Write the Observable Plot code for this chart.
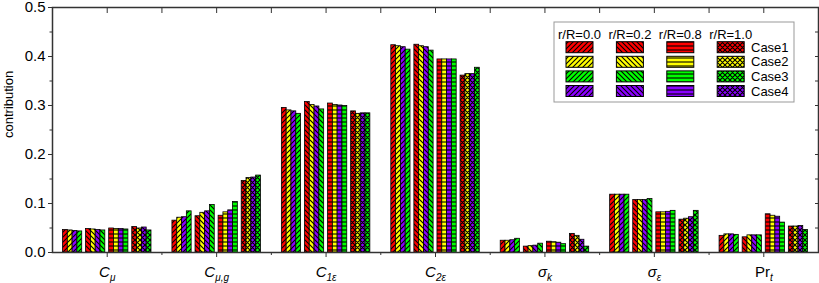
<!DOCTYPE html>
<html><head><meta charset="utf-8">
<script src="https://cdn.jsdelivr.net/npm/d3@7"></script>
<script src="https://cdn.jsdelivr.net/npm/@observablehq/plot@0.6"></script>
<style>
body{margin:0;background:#fff;}
svg{font-family:"Liberation Sans",Arial,sans-serif;}
</style>
</head><body><div id="chart"></div>
<script>
// ---- data ----
const categories = ["Cμ", "Cμ,g", "C1ε", "C2ε", "σk", "σε", "Prt"];
const categoryMain = ["C", "C", "C", "C", "σ", "σ", "Pr"];
const categorySub = ["μ", "μ,g", "1ε", "2ε", "k", "ε", "t"];
const positions = ["r/R=0.0", "r/R=0.2", "r/R=0.8", "r/R=1.0"];
const cases = ["Case1", "Case2", "Case3", "Case4"];
const caseColors = ["#ff0000", "#ffff00", "#00ff00", "#8a00ff"];
const barOrder = ["Case1", "Case2", "Case4", "Case3"];
const yTicks = [0, 0.1, 0.2, 0.3, 0.4, 0.5];
// values per case: [category][r/R position]
const case1 = [[0.046,0.048,0.049,0.052],[0.065,0.074,0.075,0.146],[0.295,0.307,0.304,0.288],[0.423,0.424,0.394,0.361],[0.024,0.012,0.022,0.038],[0.118,0.107,0.082,0.067],[0.034,0.031,0.078,0.053]];
const case2 = [[0.045,0.047,0.048,0.049],[0.071,0.081,0.082,0.152],[0.290,0.301,0.301,0.283],[0.421,0.421,0.394,0.364],[0.024,0.013,0.021,0.034],[0.118,0.107,0.082,0.069],[0.037,0.035,0.075,0.053]];
const case3 = [[0.043,0.045,0.047,0.045],[0.084,0.097,0.103,0.157],[0.283,0.292,0.299,0.284],[0.414,0.412,0.394,0.377],[0.028,0.018,0.017,0.012],[0.118,0.109,0.085,0.085],[0.036,0.035,0.061,0.046]];
const case4 = [[0.044,0.046,0.048,0.051],[0.072,0.084,0.086,0.153],[0.288,0.298,0.300,0.284],[0.419,0.419,0.394,0.364],[0.025,0.014,0.020,0.026],[0.118,0.107,0.083,0.072],[0.037,0.035,0.073,0.054]];

// ---- layout / style ----
const caseValues = {Case1: case1, Case2: case2, Case3: case3, Case4: case4};
const hatch = ["fwd", "back", "h", "cross"];
const groupPad = 0.096, subStep = 0.211, barW = 0.0439;
const pid = (p, c) => `hatch-${p}-${c}`;

const rows = [];
categories.forEach((cat, ci) => {
  positions.forEach((pos, pi) => {
    barOrder.forEach((cs, k) => {
      const x1 = ci + groupPad + pi * subStep + k * barW;
      rows.push({cat, pos, cs, value: caseValues[cs][ci][pi], x1, x2: x1 + barW,
                 fill: `url(#${pid(pi, cases.indexOf(cs))})`});
    });
  });
});

const centers = categories.map((d, i) => i + 0.5);
const bounds = d3.range(1, categories.length);
const yMinor = yTicks.slice(0, -1).map(v => v + 0.05);
const yAll = d3.range(0, 11).map(i => i * 0.05);

const plot = Plot.plot({
  width: 819, height: 283,
  marginLeft: 52, marginRight: 1, marginTop: 7, marginBottom: 31,
  style: {fontFamily: "Liberation Sans, Arial, sans-serif", background: "#fff", color: "#000"},
  x: {domain: [0, categories.length], axis: null},
  y: {domain: [0, 0.5], axis: null},
  color: {type: "identity"},
  marks: [
    Plot.rect(rows, {x1: "x1", x2: "x2", y1: 0, y2: "value", fill: "fill", stroke: "#000", strokeWidth: 0.8}),
    Plot.axisY({ticks: yTicks, tickSize: 4, tickPadding: 3, tickFormat: d3.format(".1f"), label: null, stroke: "#333", ariaLabel: "ymajor"}),
    Plot.axisY({ticks: yMinor, tickSize: 2.5, tickFormat: () => "", label: null, stroke: "#333"}),
    Plot.axisY({anchor: "right", ticks: yAll, tickSize: 4, dx: -4, tickFormat: () => "", label: null, stroke: "#333"}),
    Plot.axisX({anchor: "bottom", ticks: centers, tickSize: 5, tickPadding: 9,
                tickFormat: d => categories[Math.floor(d)], label: null, stroke: "#333"}),
    Plot.axisX({anchor: "bottom", ticks: bounds, tickSize: 3, tickFormat: () => "", label: null, stroke: "#333"}),
    Plot.axisX({anchor: "top", ticks: centers.concat(bounds), tickSize: 5, dy: 5, tickFormat: () => "", label: null, stroke: "#333"}),
    Plot.frame({stroke: "#333", strokeWidth: 1.5}),
    Plot.text(["contribution"], {text: d => d, frameAnchor: "left", rotate: -90, dx: -44, dy: 8, fontSize: 13})
  ]
});

const svg = d3.select(plot);
// hatch patterns
const defs = svg.insert("defs", ":first-child");
const paths = {
  fwd: "M-1,1L1,-1M0,5L5,0M4,6L6,4",
  back: "M-1,4L1,6M0,0L5,5M4,-1L6,1",
  h: "M-1,2H6",
  cross: "M-1,1L1,-1M0,5L5,0M4,6L6,4M-1,4L1,6M0,0L5,5M4,-1L6,1"
};
positions.forEach((p, pi) => {
  cases.forEach((c, ci) => {
    const size = hatch[pi] === "h" ? 4 : 5;
    const pat = defs.append("pattern").attr("id", pid(pi, ci))
      .attr("patternUnits", "userSpaceOnUse").attr("width", size).attr("height", size);
    pat.append("rect").attr("width", size).attr("height", size).attr("fill", caseColors[ci]);
    pat.append("path").attr("d", paths[hatch[pi]]).attr("stroke", "#000")
      .attr("stroke-width", 1.1).attr("fill", "none");
  });
});

// y tick labels size
svg.selectAll("text").each(function() {
  if (/^0\.\d$/.test(this.textContent)) {
    d3.select(this).style("font-size", "15px");
  }
});

// subscripted category labels
svg.selectAll("text").each(function() {
  const t = d3.select(this);
  const i = categories.indexOf(this.textContent);
  if (i < 0) return;
  t.text(null).style("font-size", "15px");
  t.append("tspan").text(categoryMain[i]).attr("font-style", categoryMain[i] === "Pr" ? "normal" : "italic");
  t.append("tspan").text(categorySub[i]).attr("font-style", "italic").style("font-size", "10px").attr("dy", 3.5);
});

// legend inside plot
const lg = svg.append("g").style("font-size", "13px").attr("fill", "#000").attr("text-anchor", "start");
lg.append("rect").attr("x", 554).attr("y", 22).attr("width", 240).attr("height", 80)
  .attr("fill", "#fff").attr("stroke", "#999").attr("stroke-width", 1);
positions.forEach((p, pi) => {
  const x = 566 + pi * 50.4;
  lg.append("text").attr("x", x + 13.5).attr("y", 38.5).attr("text-anchor", "middle").text(p);
  cases.forEach((c, ci) => {
    lg.append("rect").attr("x", x).attr("y", 41.7 + ci * 14.6).attr("width", 27).attr("height", 11)
      .attr("fill", `url(#${pid(pi, ci)})`).attr("stroke", "#000").attr("stroke-width", 1);
  });
});
cases.forEach((c, ci) => {
  lg.append("text").attr("x", 751).attr("y", 51.7 + ci * 14.6).attr("text-anchor", "start").text(c);
});

document.getElementById("chart").appendChild(plot);
</script>
</body></html>
